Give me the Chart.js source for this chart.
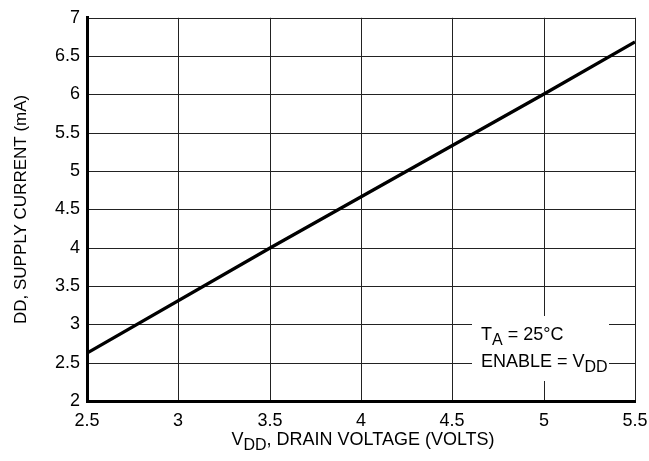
<!DOCTYPE html>
<html>
<head>
<meta charset="utf-8">
<script src="https://cdn.jsdelivr.net/npm/chart.js@4"></script>
<style>
  html, body { margin: 0; padding: 0; background: #fff; }
  canvas { display: block; }
</style>
</head>
<body>
<canvas id="chart" width="649" height="461"></canvas>
<script>
// data
const vdd = [2.5, 3.5, 5.0, 5.5];
const idd = [2.63, 4.0, 6.0, 6.69];

const xTicks = [2.5, 3, 3.5, 4, 4.5, 5, 5.5];
const yTicks = [2, 2.5, 3, 3.5, 4, 4.5, 5, 5.5, 6, 6.5, 7];

const FONT = '"Liberation Sans", Arial, sans-serif';

// draw text with subscript parts: [[text, isSub], ...]
function drawRich(ctx, parts, x, y, size, align) {
  const subSize = Math.round(size * 0.88);
  let total = 0;
  parts.forEach(p => {
    ctx.font = (p[1] ? subSize : size) + 'px ' + FONT;
    total += ctx.measureText(p[0]).width;
  });
  let cx = align === 'center' ? x - total / 2 : x;
  ctx.textAlign = 'left';
  ctx.textBaseline = 'alphabetic';
  parts.forEach(p => {
    ctx.font = (p[1] ? subSize : size) + 'px ' + FONT;
    ctx.fillText(p[0], cx, p[1] ? y + 5 : y);
    cx += ctx.measureText(p[0]).width;
  });
}

const labelsPlugin = {
  id: 'labels',
  beforeDatasetsDraw(chart) {
    const ctx = chart.ctx;
    const xs = chart.scales.x, ys = chart.scales.y;
    // white box behind the condition note
    const bx1 = xs.getPixelForValue(4.606), bx2 = xs.getPixelForValue(5.358);
    const by1 = ys.getPixelForValue(3.107), by2 = ys.getPixelForValue(2.26);
    ctx.save();
    ctx.fillStyle = '#fff';
    ctx.fillRect(bx1, by1, bx2 - bx1, by2 - by1);
    ctx.fillStyle = '#000';
    drawRich(ctx, [['T', false], ['A', true], [' = 25°C', false]], bx1 + 9, by1 + 24, 18, 'left');
    drawRich(ctx, [['ENABLE = V', false], ['DD', true]], bx1 + 9, by1 + 51, 18, 'left');
    ctx.restore();
  },
  afterDraw(chart) {
    const ctx = chart.ctx;
    const a = chart.chartArea;
    ctx.save();
    ctx.fillStyle = '#000';
    drawRich(ctx, [['V', false], ['DD', true], [', DRAIN VOLTAGE (VOLTS)', false]],
      (a.left + a.right) / 2 + 2, 445, 18, 'center');
    ctx.translate(26, (a.top + a.bottom) / 2);
    ctx.rotate(-Math.PI / 2);
    drawRich(ctx, [['DD, SUPPLY CURRENT (mA)', false]], 0, 0, 17, 'center');
    ctx.restore();
  }
};

new Chart(document.getElementById('chart'), {
  type: 'line',
  data: {
    datasets: [{
      data: vdd.map((v, i) => ({ x: v, y: idd[i] })),
      borderColor: '#000',
      borderWidth: 3.2,
      pointRadius: 0,
      tension: 0
    }]
  },
  options: {
    responsive: false,
    animation: false,
    devicePixelRatio: 1,
    layout: { padding: { top: 17, right: 3, left: 0, bottom: 0 } },
    plugins: { legend: { display: false }, tooltip: { enabled: false } },
    scales: {
      x: {
        type: 'linear',
        min: 2.5, max: 5.5,
        alignToPixels: true,
        afterFit(s) { s.height = 60; s.paddingRight = 14; },
        afterBuildTicks(s) { s.ticks = xTicks.map(v => ({ value: v })); },
        ticks: {
          color: '#000', font: { family: FONT, size: 18 }, padding: 9, maxRotation: 0, autoSkip: false,
          callback: v => String(v)
        },
        grid: { color: '#222', lineWidth: 1, drawTicks: false },
        border: { color: '#000', width: 3 }
      },
      y: {
        type: 'linear',
        min: 2, max: 7,
        alignToPixels: true,
        afterFit(s) { s.width = 87; },
        afterBuildTicks(s) { s.ticks = yTicks.map(v => ({ value: v })); },
        ticks: {
          color: '#000', font: { family: FONT, size: 18 }, padding: 7, autoSkip: false,
          callback: v => String(v)
        },
        grid: { color: '#222', lineWidth: 1, drawTicks: false },
        border: { color: '#000', width: 3 }
      }
    }
  },
  plugins: [labelsPlugin]
});
</script>
</body>
</html>
